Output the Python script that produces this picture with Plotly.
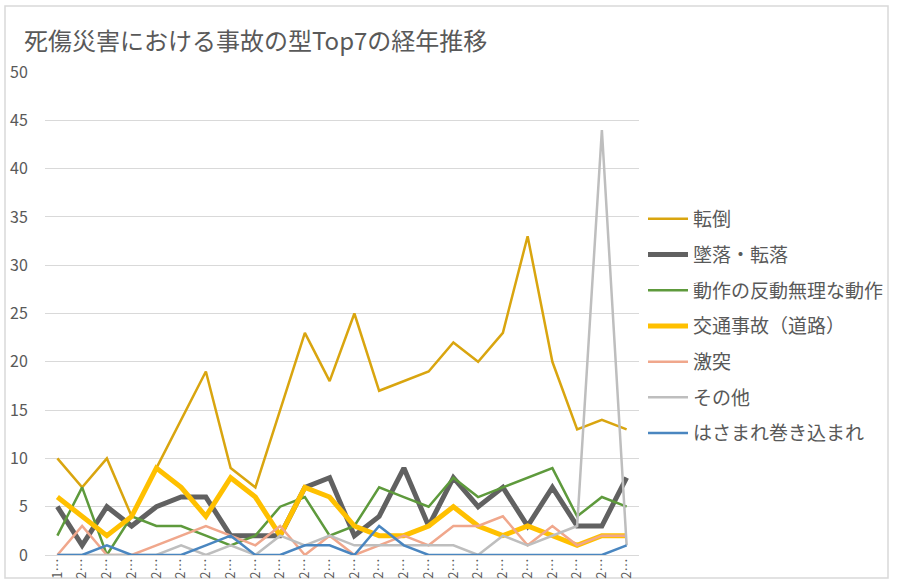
import plotly.graph_objects as go

# ---- data ----
years = [str(y) for y in range(1999, 2023)]
tick_labels = ["1…"] + ["2…"] * 23

tentou = [10, 7, 10, 4, 9, 14, 19, 9, 7, 15, 23, 18, 25, 17, 18, 19, 22, 20, 23, 33, 20, 13, 14, 13]
tsuiraku = [5, 1, 5, 3, 5, 6, 6, 2, 2, 2, 7, 8, 2, 4, 9, 3, 8, 5, 7, 3, 7, 3, 3, 8]
dousa = [2, 7, 0, 4, 3, 3, 2, 1, 2, 5, 6, 2, 3, 7, 6, 5, 8, 6, 7, 8, 9, 4, 6, 5]
koutsu = [6, 4, 2, 4, 9, 7, 4, 8, 6, 2, 7, 6, 3, 2, 2, 3, 5, 3, 2, 3, 2, 1, 2, 2]
gekitotsu = [0, 3, 0, 0, 1, 2, 3, 2, 1, 3, 0, 2, 0, 1, 2, 1, 3, 3, 4, 1, 3, 1, 2, 2]
sonota = [0, 0, 0, 0, 0, 1, 0, 1, 0, 2, 1, 2, 1, 1, 1, 1, 1, 0, 2, 1, 2, 3, 44, 1]
hasamare = [0, 0, 1, 0, 0, 0, 1, 2, 0, 0, 1, 1, 0, 3, 1, 0, 0, 0, 0, 0, 0, 0, 0, 1]

series = [
    ("転倒", tentou, "#D9A50F", 2.5),
    ("墜落・転落", tsuiraku, "#616161", 5),
    ("動作の反動無理な動作", dousa, "#5E9A3C", 2.5),
    ("交通事故（道路）", koutsu, "#FFC000", 5),
    ("激突", gekitotsu, "#F0A78C", 2.5),
    ("その他", sonota, "#BEBEBE", 2.5),
    ("はさまれ巻き込まれ", hasamare, "#4A86C0", 2.5),
]

FONT = "Noto Sans CJK JP"
GREY = "#595959"

fig = go.Figure()
for i, (name, vals, color, w) in enumerate(series):
    fig.add_trace(go.Scatter(
        x=years, y=vals, name=name, mode="lines",
        line=dict(color=color, width=w),
        legendgroup=f"g{i}",
    ))

L, R, T, B = 45, 258, 72, 27
W, H = 897, 582
pw = W - L - R
ph = H - T - B

fig.update_layout(
    width=W, height=H,
    margin=dict(l=L, r=R, t=T, b=B, autoexpand=False),
    paper_bgcolor="white", plot_bgcolor="white",
    font=dict(family=FONT, color=GREY, size=16),
    title=dict(
        text="死傷災害における事故の型Top7の経年推移",
        x=24 / W, xanchor="left", y=1 - 42 / H, yanchor="middle",
        font=dict(size=24, color=GREY, family=FONT),
    ),
    showlegend=True,
    legend=dict(
        x=(643 - L) / pw, xanchor="left",
        y=(H - B - 200) / ph, yanchor="top",
        font=dict(size=19, color=GREY, family=FONT),
        tracegroupgap=8,
        bgcolor="rgba(0,0,0,0)",
        itemwidth=40,
    ),
    xaxis=dict(
        type="category",
        range=[-0.5, len(years) - 0.5],
        tickmode="array", tickvals=years, ticktext=tick_labels,
        tickangle=-90,
        showgrid=False, showline=False, zeroline=False,
        ticks="", tickfont=dict(size=13, color=GREY),
        automargin=False,
    ),
    yaxis=dict(
        range=[0, 50], dtick=5, tick0=0,
        showgrid=True, gridcolor="#D9D9D9", gridwidth=1,
        zeroline=True, zerolinecolor="#D9D9D9", zerolinewidth=1,
        showline=False,
        ticks="outside", ticklen=13, tickcolor="rgba(0,0,0,0)",
        tickfont=dict(size=16, color=GREY),
        automargin=False,
    ),
)

# chart-area border
fig.add_shape(
    type="rect", xref="paper", yref="paper",
    x0=(5 - L) / pw, x1=(888 - L) / pw,
    y0=(H - B - 578) / ph, y1=(H - B - 6) / ph,
    line=dict(color="#D9D9D9", width=1.5), fillcolor="rgba(0,0,0,0)",
    layer="below",
)

fig.write_html(
    "out.html",
    config={"displayModeBar": False},
    post_script="document.body.style.margin='0';document.body.style.overflow='hidden';",
)
